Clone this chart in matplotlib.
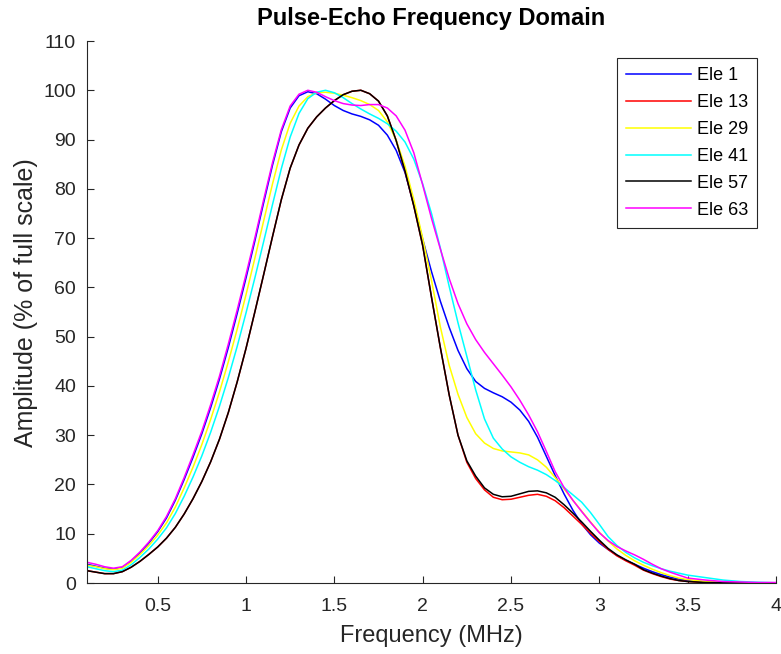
import numpy as np
import matplotlib
matplotlib.use("Agg")
import matplotlib.pyplot as plt

plt.rcParams['font.family'] = ['Liberation Sans', 'DejaVu Sans']

# Frequency grid (MHz)
freq = [0.10, 0.15, 0.20, 0.25, 0.30, 0.35, 0.40, 0.45, 0.50, 0.55,
        0.60, 0.65, 0.70, 0.75, 0.80, 0.85, 0.90, 0.95, 1.00, 1.05,
        1.10, 1.15, 1.20, 1.25, 1.30, 1.35, 1.40, 1.45, 1.50, 1.55,
        1.60, 1.65, 1.70, 1.75, 1.80, 1.85, 1.90, 1.95, 2.00, 2.05,
        2.10, 2.15, 2.20, 2.25, 2.30, 2.35, 2.40, 2.45, 2.50, 2.55,
        2.60, 2.65, 2.70, 2.75, 2.80, 2.85, 2.90, 2.95, 3.00, 3.05,
        3.10, 3.15, 3.20, 3.25, 3.30, 3.35, 3.40, 3.45, 3.50, 3.60,
        3.70, 3.80, 3.90, 4.00]

# Amplitude (% of full scale) per element
ele_1 = [3.8, 3.4, 3.0, 2.8, 3.1, 4.4, 6.1, 8.1, 10.4, 13.2,
         16.8, 21.0, 25.5, 30.3, 35.6, 41.4, 47.8, 54.7, 61.9, 69.4,
         77.2, 84.8, 91.6, 96.4, 98.9, 99.7, 99.3, 98.2, 96.9, 95.9,
         95.2, 94.7, 94.0, 92.9, 90.9, 87.8, 83.3, 76.8, 69.8, 63.2,
         57.2, 51.9, 47.2, 43.5, 40.9, 39.5, 38.6, 37.8, 36.7, 35.1,
         32.8, 29.6, 25.7, 21.8, 18.1, 14.8, 12.0, 9.8, 8.1, 6.8,
         5.6, 4.6, 3.8, 3.0, 2.3, 1.7, 1.2, 0.8, 0.5, 0.2,
         0.1, 0.05, 0.02, 0.0]

ele_13 = [2.5, 2.2, 1.9, 1.9, 2.3, 3.2, 4.4, 5.8, 7.3, 9.1,
          11.3, 14.0, 17.1, 20.6, 24.6, 29.2, 34.6, 40.8, 47.6, 55.0,
          62.6, 70.3, 77.8, 84.2, 88.9, 92.3, 94.6, 96.4, 97.9, 99.1,
          99.8, 100.0, 99.3, 97.8, 94.8, 89.8, 83.6, 76.5, 68.5, 58.0,
          47.8, 38.2, 30.0, 24.5, 21.2, 18.9, 17.4, 16.9, 17.0, 17.4,
          17.8, 18.0, 17.6, 16.7, 15.3, 13.6, 11.9, 10.1, 8.4, 6.8,
          5.5, 4.5, 3.6, 2.6, 1.9, 1.3, 0.8, 0.5, 0.3, 0.1,
          0.05, 0.02, 0.01, 0.0]

ele_29 = [3.6, 3.3, 2.9, 2.7, 3.0, 4.2, 5.8, 7.6, 9.7, 12.2,
          15.4, 19.3, 23.5, 28.1, 33.2, 38.8, 44.9, 51.5, 58.5, 65.9,
          73.5, 81.0, 87.9, 93.3, 96.8, 98.7, 99.5, 99.6, 99.4, 99.0,
          98.5, 97.9, 97.1, 95.9, 93.6, 89.9, 84.6, 77.8, 70.0, 61.4,
          52.0, 44.2, 38.3, 33.6, 30.3, 28.4, 27.3, 26.8, 26.6, 26.4,
          26.0, 25.0, 23.5, 21.4, 19.1, 16.8, 14.6, 12.4, 10.3, 8.5,
          6.9, 5.6, 4.5, 3.6, 2.8, 2.1, 1.5, 1.0, 0.7, 0.3,
          0.15, 0.07, 0.03, 0.0]

ele_41 = [3.3, 2.9, 2.5, 2.3, 2.6, 3.7, 5.2, 6.9, 8.9, 11.2,
          14.1, 17.6, 21.5, 25.8, 30.6, 35.9, 41.7, 48.0, 54.8, 61.9,
          69.3, 76.8, 84.1, 90.5, 95.3, 98.3, 99.6, 100.0, 99.5, 98.5,
          97.3, 96.2, 95.2, 94.3, 93.2, 91.7, 89.5, 86.0, 81.0, 75.0,
          68.0, 60.2, 52.8, 46.0, 39.2, 33.3, 29.4, 27.2, 25.6, 24.5,
          23.6, 22.9, 22.0, 20.8, 19.4, 17.9, 16.4, 14.3, 11.9, 9.4,
          7.6, 6.2, 5.1, 4.2, 3.5, 2.9, 2.4, 2.0, 1.6, 1.1,
          0.6, 0.3, 0.15, 0.05]

ele_57 = [2.5, 2.2, 1.9, 1.9, 2.3, 3.2, 4.4, 5.8, 7.3, 9.1,
          11.3, 14.0, 17.1, 20.6, 24.6, 29.2, 34.6, 40.8, 47.6, 55.0,
          62.6, 70.3, 77.8, 84.2, 88.9, 92.3, 94.6, 96.4, 97.9, 99.1,
          99.8, 100.0, 99.3, 97.8, 94.8, 89.8, 83.6, 76.5, 68.5, 58.0,
          47.8, 38.2, 30.0, 24.8, 21.7, 19.3, 18.0, 17.5, 17.6, 18.1,
          18.6, 18.7, 18.3, 17.4, 15.9, 14.2, 12.4, 10.5, 8.7, 7.0,
          5.7, 4.7, 3.8, 2.7, 2.0, 1.4, 0.9, 0.5, 0.3, 0.1,
          0.05, 0.02, 0.01, 0.0]

ele_63 = [4.2, 3.8, 3.3, 3.0, 3.3, 4.6, 6.3, 8.3, 10.6, 13.5,
          17.1, 21.4, 26.0, 30.8, 36.2, 42.0, 48.5, 55.4, 62.6, 70.0,
          77.8, 85.3, 92.0, 96.8, 99.2, 100.0, 99.6, 98.7, 97.9, 97.3,
          97.0, 96.9, 97.1, 97.1, 96.4, 94.8, 91.9, 87.3, 80.8, 74.0,
          67.8, 61.8, 56.7, 52.6, 49.4, 46.8, 44.5, 42.2, 39.8, 37.1,
          34.1, 30.7, 26.7, 22.6, 19.4, 16.8, 14.5, 12.3, 10.2, 8.6,
          7.4, 6.5, 5.7, 4.8, 3.8, 2.9, 2.2, 1.6, 1.0, 0.6,
          0.3, 0.2, 0.1, 0.1]

labels = ['Ele 1', 'Ele 13', 'Ele 29', 'Ele 41', 'Ele 57', 'Ele 63']
colors = ['#0000FF', '#FF0000', '#FFFF00', '#00FFFF', '#000000', '#FF00FF']
series = [ele_1, ele_13, ele_29, ele_41, ele_57, ele_63]

x_ticks = [0.5, 1, 1.5, 2, 2.5, 3, 3.5, 4]
x_tick_labels = ['0.5', '1', '1.5', '2', '2.5', '3', '3.5', '4']
y_ticks = list(range(0, 111, 10))

W, H = 781, 654
L, R, B, T = 87, 776, 583, 41

fig = plt.figure(figsize=(W / 100, H / 100), dpi=100)
ax = fig.add_axes([L / W, 1 - B / H, (R - L) / W, (B - T) / H])

for vals, col, lab in zip(series, colors, labels):
    ax.plot(freq, vals, color=col, lw=1.1, label=lab)

ax.set_xlim(0.1, 4)
ax.set_ylim(0, 110)
ax.set_xticks(x_ticks)
ax.set_xticklabels(x_tick_labels)
ax.set_yticks(y_ticks)

axis_col = '#262626'
for side in ('top', 'right'):
    ax.spines[side].set_visible(False)
for side in ('left', 'bottom'):
    ax.spines[side].set_color(axis_col)
    ax.spines[side].set_linewidth(0.8)
ax.tick_params(direction='in', length=5, width=0.8, colors=axis_col,
               labelsize=14)
ax.tick_params(axis='x', pad=11)
ax.tick_params(axis='y', pad=8)

ax.text(0.5, 1 + (T - 18) / (B - T), 'Pulse-Echo Frequency Domain',
        transform=ax.transAxes, ha='center', va='center',
        fontsize=17, fontweight='bold', color='black')

ax.set_xlabel('Frequency (MHz)', fontsize=17, color=axis_col)
ax.xaxis.label.set_va('center')
ax.xaxis.set_label_coords(0.5, -(636 - B) / (B - T))
ax.set_ylabel('Amplitude (% of full scale)', fontsize=18, color=axis_col)
ax.yaxis.label.set_va('center')
ax.yaxis.set_label_coords(-(L - 26) / (R - L), 0.5 + (312 - 303) / (B - T))

leg = ax.legend(loc='upper right', bbox_to_anchor=(757 / W, 1 - 58 / H),
                bbox_transform=fig.transFigure, borderaxespad=0,
                fontsize=13, fancybox=False, edgecolor=axis_col,
                framealpha=1, handlelength=3.6, handletextpad=0.3,
                borderpad=0.5, labelspacing=0.55)
leg.get_frame().set_linewidth(0.8)

fig.savefig('out.png', dpi=100)
